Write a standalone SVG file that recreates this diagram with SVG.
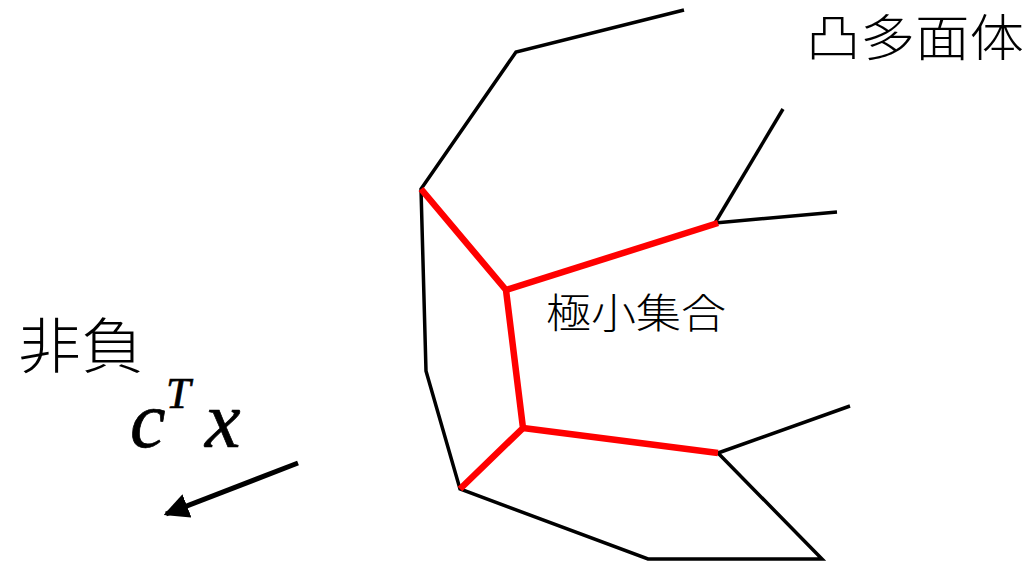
<svg xmlns="http://www.w3.org/2000/svg" width="1031" height="564" viewBox="0 0 1031 564">
<defs>
<style>
.edge{fill:none;stroke:#000;stroke-width:3.5;stroke-linejoin:miter;stroke-linecap:butt}
.red{fill:none;stroke:#ff0000;stroke-width:6.5;stroke-linejoin:miter}
.jp{font-family:"Noto Sans CJK JP","Noto Sans CJK SC",sans-serif;font-weight:300;fill:#000}
.math{font-family:"Liberation Serif",serif;font-style:italic;fill:#000;stroke:#000;stroke-width:0.7}
</style>
<marker id="ah" viewBox="0 0 10 10" refX="9" refY="5" markerWidth="5" markerHeight="5" orient="auto" markerUnits="strokeWidth">
<path d="M0,0 L10,5 L0,10 z" fill="#000"/>
</marker>
</defs>
<rect width="1031" height="564" fill="#fff"/>
<g id="connectors">
<polyline class="edge" points="684,10 516,52 421,189 426,371 460,489 648,559 822,559 718,453"/>
<line class="edge" x1="718" y1="453" x2="850" y2="406"/>
<line class="edge" x1="715" y1="223" x2="783" y2="109"/>
<line class="edge" x1="715" y1="223" x2="837" y2="212"/>
<polyline class="red" points="421,189 506,290 523,428 460,489"/>
<line class="red" x1="506" y1="290" x2="718" y2="223"/>
<line class="red" x1="523" y1="428" x2="718" y2="453"/>
<line x1="298" y1="463" x2="166" y2="514" stroke="#000" stroke-width="5" marker-end="url(#ah)"/>
</g>
<g id="label-polyhedron"><text class="jp" x="806" y="56" font-size="50" textLength="218" lengthAdjust="spacingAndGlyphs">凸多面体</text></g>
<g id="label-minimal"><text class="jp" x="546" y="328" font-size="41" textLength="180" lengthAdjust="spacingAndGlyphs">極小集合</text></g>
<g id="label-nonneg"><text class="jp" x="18" y="368" font-size="60" textLength="126" lengthAdjust="spacingAndGlyphs">非負</text></g>
<g id="label-ctx">
<text class="math" x="130" y="447" font-size="80">c</text>
<text class="math" x="166" y="408" font-size="44">T</text>
<text class="math" x="205" y="447" font-size="80">x</text>
</g>
</svg>
